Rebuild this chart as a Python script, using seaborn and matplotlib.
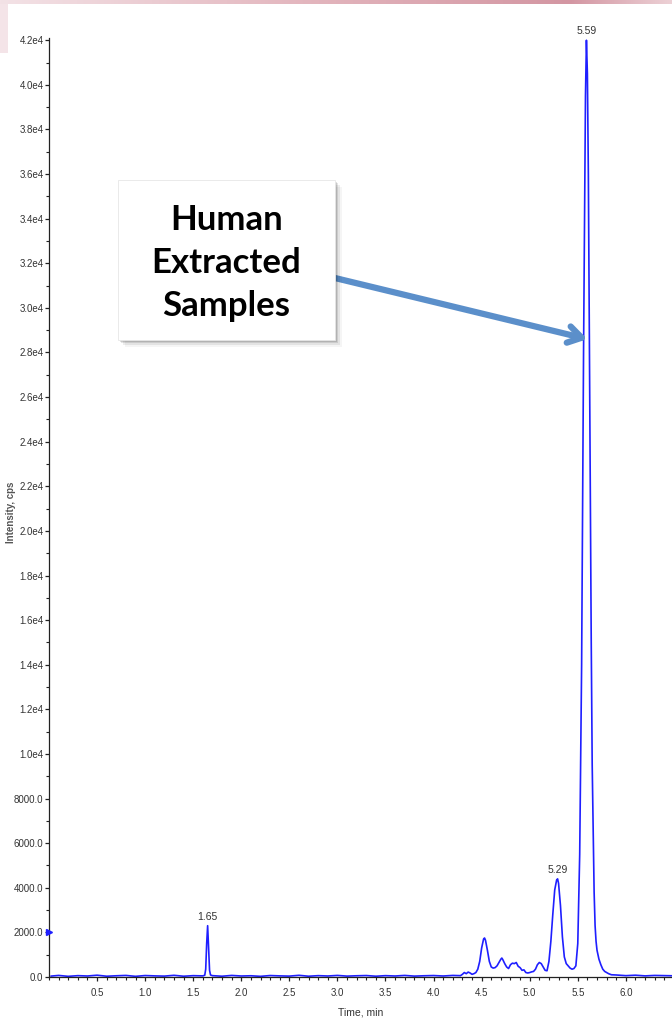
import numpy as np
import pandas as pd
import matplotlib
matplotlib.use("Agg")
import matplotlib.pyplot as plt
import seaborn as sns
from matplotlib.patches import Rectangle
from matplotlib.ticker import FixedLocator, MultipleLocator

# ---------------- data ----------------
base1_t = [0.02, 0.1, 0.2, 0.3, 0.4, 0.5, 0.6, 0.7, 0.8, 0.9, 1.0, 1.1, 1.2, 1.3, 1.4, 1.5, 1.6]
base1_y = [40, 70, 30, 60, 45, 80, 35, 55, 70, 30, 65, 50, 40, 75, 35, 60, 50]

peak1_t = [1.62, 1.63, 1.64, 1.65, 1.66, 1.67, 1.68]
peak1_y = [80, 350, 1500, 2300, 1300, 300, 90]

base2_t = [1.7, 1.8, 1.9, 2.0, 2.1, 2.2, 2.3, 2.4, 2.5, 2.6, 2.7, 2.8, 2.9, 3.0,
           3.1, 3.2, 3.3, 3.4, 3.5, 3.6, 3.7, 3.8, 3.9, 4.0, 4.1, 4.2]
base2_y = [60, 35, 70, 45, 55, 30, 65, 50, 40, 75, 35, 60, 45, 70,
           40, 55, 65, 35, 60, 45, 70, 40, 55, 65, 45, 70]

cluster_t = [4.28, 4.30, 4.32, 4.34, 4.36, 4.38, 4.40, 4.42, 4.44, 4.46, 4.48, 4.50,
             4.52, 4.53, 4.54, 4.56, 4.58, 4.60, 4.62, 4.64, 4.66, 4.68, 4.70, 4.71,
             4.72, 4.74, 4.76, 4.78, 4.80, 4.82, 4.84, 4.86, 4.88, 4.90, 4.92, 4.94,
             4.96, 4.98, 5.00, 5.02, 5.04, 5.06, 5.08, 5.10, 5.12, 5.14, 5.16, 5.18,
             5.20, 5.22, 5.24, 5.26, 5.28, 5.29, 5.30, 5.32, 5.34, 5.36, 5.38, 5.40,
             5.42, 5.44, 5.46, 5.48, 5.50, 5.52, 5.54, 5.56, 5.58, 5.59, 5.60, 5.61,
             5.62, 5.63, 5.64, 5.65, 5.66, 5.67, 5.68, 5.69, 5.70, 5.72, 5.74, 5.76,
             5.78, 5.80, 5.82, 5.85]
cluster_y = [60, 120, 200, 150, 220, 180, 120, 150, 200, 350, 700, 1300,
             1700, 1750, 1650, 1200, 700, 450, 400, 420, 500, 650, 800, 850,
             780, 600, 450, 380, 550, 620, 600, 650, 480, 420, 300, 320,
             200, 180, 200, 230, 250, 350, 550, 650, 600, 450, 300, 280,
             700, 1600, 2800, 3900, 4350, 4400, 4200, 3200, 1800, 900, 600, 500,
             400, 350, 380, 500, 1500, 5500, 14000, 28000, 39500, 42000, 40500, 36000,
             29000, 22000, 15000, 9500, 6500, 3800, 2300, 1600, 1200, 800, 550, 350,
             250, 200, 150, 100]

base3_t = [5.9, 6.0, 6.1, 6.2, 6.3, 6.4, 6.48]
base3_y = [90, 60, 80, 50, 70, 60, 55]

peak_labels = ["1.65", "5.29", "5.59"]
peak_label_t = [1.65, 5.29, 5.59]
peak_label_y = [2300, 4400, 42000]

y_ticks = [0, 2000, 4000, 6000, 8000, 10000, 12000, 14000, 16000, 18000, 20000,
           22000, 24000, 26000, 28000, 30000, 32000, 34000, 36000, 38000, 40000, 42000]
y_tick_labels = ["0.0", "2000.0", "4000.0", "6000.0", "8000.0", "1.0e4", "1.2e4", "1.4e4",
                 "1.6e4", "1.8e4", "2.0e4", "2.2e4", "2.4e4", "2.6e4", "2.8e4", "3.0e4",
                 "3.2e4", "3.4e4", "3.6e4", "3.8e4", "4.0e4", "4.2e4"]
x_ticks = [0.5, 1.0, 1.5, 2.0, 2.5, 3.0, 3.5, 4.0, 4.5, 5.0, 5.5, 6.0]
x_tick_labels = ["0.5", "1.0", "1.5", "2.0", "2.5", "3.0", "3.5", "4.0", "4.5", "5.0", "5.5", "6.0"]

callout_text = "Human\nExtracted\nSamples"

df = pd.DataFrame({
    "time": base1_t + peak1_t + base2_t + cluster_t + base3_t,
    "intensity": base1_y + peak1_y + base2_y + cluster_y + base3_y,
})

# ---------------- figure ----------------
sns.set_theme(style="white")
tickfont = ["Liberation Sans", "DejaVu Sans"]
plt.rcParams["font.family"] = tickfont

W, H = 672, 1026
fig = plt.figure(figsize=(W / 100, H / 100), dpi=100)
fig.patch.set_facecolor("white")

# slide decoration (top pink band + left strip)
band = fig.add_axes([0, 1 - 4 / H, 1, 4 / H])
grad = np.linspace(0, 1, 256).reshape(1, -1)
band.imshow(grad, aspect="auto", interpolation="bilinear",
            cmap=matplotlib.colors.LinearSegmentedColormap.from_list(
                "pink", [(0, "#f3e2e6"), (0.45, "#e3b6be"), (0.85, "#d396a2"), (1, "#ecd0d5")]),
            extent=[0, 1, 0, 1])
band.set_axis_off()
fig.add_artist(Rectangle((0, 1 - 53 / H), 8 / W, 53 / H, transform=fig.transFigure,
                         facecolor="#f4e4e8", edgecolor="none", zorder=0))

ax = fig.add_axes([49 / W, 49 / H, (W - 49) / W, (977 - 38) / H])
sns.lineplot(data=df, x="time", y="intensity", ax=ax, color="#1f1fff",
             linewidth=1.2, estimator=None, sort=False)

ax.set_xlim(0.0, 6.48)
ax.set_ylim(0, 42100)
ax.set_facecolor("white")
for s in ["top", "right"]:
    ax.spines[s].set_visible(False)
for s in ["left", "bottom"]:
    ax.spines[s].set_color("#222222")
    ax.spines[s].set_linewidth(0.9)

ax.yaxis.set_major_locator(FixedLocator(y_ticks))
ax.set_yticklabels(y_tick_labels)
ax.yaxis.set_minor_locator(MultipleLocator(1000))
ax.xaxis.set_major_locator(FixedLocator(x_ticks))
ax.set_xticklabels(x_tick_labels)
ax.xaxis.set_minor_locator(MultipleLocator(0.1))
ax.tick_params(axis="both", which="major", direction="out", length=3, width=0.9,
               color="#222222", labelsize=7, labelcolor="#333333", pad=1,
               bottom=True, left=True)
ax.tick_params(axis="x", which="major", pad=5)
ax.tick_params(axis="both", which="minor", direction="out", length=2, width=0.8,
               color="#222222", bottom=True, left=True)
for lab in ax.get_xticklabels() + ax.get_yticklabels():
    lab.set_family(tickfont)

ax.set_xlabel("Time, min", fontsize=7.5, color="#333333", labelpad=7, family=tickfont)
ax.set_ylabel("")
fig.text(11 / W, 1 - 512 / H, "Intensity, cps", rotation=90, ha="center", va="center",
         fontsize=7, color="#555555", fontweight="bold", family=tickfont)

for lab, t, y in zip(peak_labels, peak_label_t, peak_label_y):
    ax.annotate(lab, xy=(t, y), xytext=(0, 3), textcoords="offset points",
                ha="center", va="bottom", fontsize=7.5, color="#333333",
                family=tickfont, annotation_clip=False)

# small blue marker on the y-axis at 2000
ax.plot([0.0], [2000], marker=">", color="#1f1fff", markersize=5, clip_on=False, zorder=5)

# callout box with shadow
bx0, by0, bx1, by1 = 118, 180, 335, 340
for off, a in [(7, 0.04), (5, 0.07), (3, 0.10), (1.5, 0.12)]:
    fig.add_artist(Rectangle(((bx0 + off) / W, 1 - (by1 + off) / H), (bx1 - bx0) / W, (by1 - by0) / H,
                             transform=fig.transFigure, facecolor="black", alpha=a,
                             edgecolor="none", zorder=9))
fig.add_artist(Rectangle((bx0 / W, 1 - by1 / H), (bx1 - bx0) / W, (by1 - by0) / H,
                         transform=fig.transFigure, facecolor="white", edgecolor="#e6e6e6",
                         linewidth=0.6, zorder=10))
fig.text((bx0 + bx1) / 2 / W, 1 - 263 / H, callout_text, ha="center", va="center",
         fontsize=25, fontweight="bold", color="black", linespacing=1.42,
         family=["Lato", "DejaVu Sans"], zorder=11)

ax.annotate("", xy=(5.60, 28600), xycoords="data",
            xytext=(335, H - 278), textcoords="figure pixels",
            arrowprops=dict(arrowstyle="->,head_length=0.8,head_width=0.5",
                            color="#5b8fca", lw=4.5, shrinkA=0, shrinkB=0),
            zorder=12, annotation_clip=False)

fig.savefig("out.png", dpi=100)
